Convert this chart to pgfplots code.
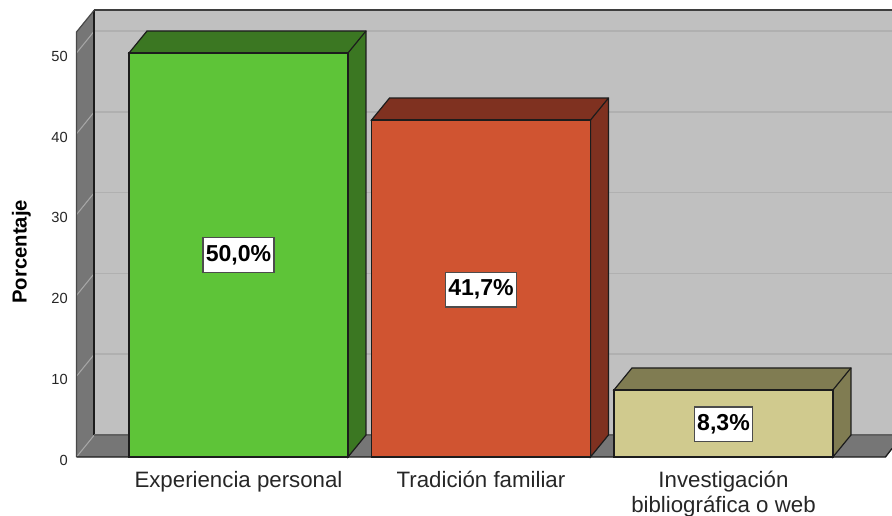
\documentclass[border=0pt]{standalone}
\usepackage{pgfplots}
\pgfplotsset{compat=1.18}
\usepackage{fontspec}
\setmainfont{Liberation Sans}
\definecolor{wallback}{HTML}{C0C0C0}
\definecolor{wallside}{HTML}{767676}
\definecolor{gridback}{HTML}{B0B0B0}
\definecolor{gridside}{HTML}{A6A6A6}
\definecolor{edge}{HTML}{1C1C1C}
\definecolor{gfront}{HTML}{5EC438}
\definecolor{gdark}{HTML}{3B7722}
\definecolor{rfront}{HTML}{D05431}
\definecolor{rdark}{HTML}{7F3120}
\definecolor{tfront}{HTML}{D0CA8E}
\definecolor{tdark}{HTML}{807C52}
\begin{document}
\begin{tikzpicture}
\useasboundingbox (0,0) rectangle (669pt,386.25pt);
\begin{axis}[
  at={(57.375pt,43.5pt)}, anchor=south west,
  scale only axis, width=611.625pt, height=342.75pt,
  xmin=-0.668, xmax=2.695, ymin=0, ymax=56.56,
  clip=false,
  axis line style={draw=none},
  major tick length=0pt,
  tick style={draw=none},
  xtick={0,1,2},
  xticklabels={Experiencia personal,Tradición familiar,{Investigación\\bibliográfica o web}},
  xticklabel style={align=center,font=\fontsize{16.7pt}{18.5pt}\selectfont,text=black!85,yshift=-7pt},
  ytick={0,10,20,30,40,50},
  yticklabel style={font=\fontsize{11pt}{12pt}\selectfont,text=black!85,xshift=-3pt,yshift=-2.5pt},
  /pgf/number format/assume math mode=true,
  ylabel={\fontsize{15.2pt}{16pt}\selectfont\bfseries Porcentaje},
  every axis y label/.style={at={(axis description cs:-0.0675,0.449)},rotate=90,anchor=center},
]
% walls
\addplot[draw=none,fill=wallback,forget plot] coordinates {(-0.5944,2.723)(-0.5944,55.32)(2.695,55.32)(2.695,2.723)} -- cycle;
\addplot[draw=none,fill=wallside,forget plot] coordinates {(-0.668,0)(-0.5944,2.723)(-0.5944,55.32)(-0.668,52.6)} -- cycle;
\addplot[draw=none,fill=wallside,forget plot] coordinates {(-0.668,0)(2.668,0)(2.695,1.05)(2.695,2.723)(-0.5944,2.723)} -- cycle;
% grid on back wall
\addplot[gridback,line width=1.2pt,forget plot] coordinates {(-0.5944,12.723)(2.695,12.723)};
\addplot[gridback,line width=1.2pt,forget plot] coordinates {(-0.5944,22.723)(2.695,22.723)};
\addplot[gridback,line width=1.2pt,forget plot] coordinates {(-0.5944,32.723)(2.695,32.723)};
\addplot[gridback,line width=1.2pt,forget plot] coordinates {(-0.5944,42.723)(2.695,42.723)};
\addplot[gridback,line width=1.2pt,forget plot] coordinates {(-0.5944,52.723)(2.695,52.723)};
% grid on side wall
\addplot[gridside,line width=0.8pt,forget plot] coordinates {(-0.668,0)(-0.5944,2.723)};
\addplot[gridside,line width=0.8pt,forget plot] coordinates {(-0.668,10)(-0.5944,12.723)};
\addplot[gridside,line width=0.8pt,forget plot] coordinates {(-0.668,20)(-0.5944,22.723)};
\addplot[gridside,line width=0.8pt,forget plot] coordinates {(-0.668,30)(-0.5944,32.723)};
\addplot[gridside,line width=0.8pt,forget plot] coordinates {(-0.668,40)(-0.5944,42.723)};
\addplot[gridside,line width=0.8pt,forget plot] coordinates {(-0.668,50)(-0.5944,52.723)};
% wall edges
\addplot[edge!85!white,line width=1.2pt,forget plot] coordinates {(2.695,55.32)(-0.5944,55.32)};
\addplot[edge,line width=1.6pt,forget plot] coordinates {(-0.5944,55.32)(-0.5944,2.723)};
\addplot[edge!70!white,line width=1.1pt,forget plot] coordinates {(-0.5944,2.723)(2.695,2.723)};
\addplot[edge!80!white,line width=0.9pt,line join=round,forget plot] coordinates {(-0.668,0)(-0.668,52.6)(-0.5944,55.32)};
\addplot[edge,line width=1pt,forget plot] coordinates {(-0.668,0)(2.668,0)(2.695,1.05)};
% bar 1: 50.0
\addplot[draw=edge,line width=0.9pt,fill=gdark,forget plot] coordinates {(-0.4515,50)(-0.3773,52.723)(0.5257,52.723)(0.5257,2.723)(0.4515,0)(0.4515,50)} -- cycle;
\addplot[edge,line width=0.9pt,forget plot] coordinates {(0.4515,50)(0.5257,52.723)};
\addplot[ybar,bar shift=0pt,bar width=164.25pt,draw=edge,line width=0.9pt,fill=gfront,forget plot] coordinates {(0,50)};
% bar 2: 41.7
\addplot[draw=edge,line width=0.9pt,fill=rdark,forget plot] coordinates {(0.5485,41.7)(0.6227,44.423)(1.5257,44.423)(1.5257,2.723)(1.4515,0)(1.4515,41.7)} -- cycle;
\addplot[edge,line width=0.9pt,forget plot] coordinates {(1.4515,41.7)(1.5257,44.423)};
\addplot[ybar,bar shift=0pt,bar width=164.25pt,draw=edge,line width=0.9pt,fill=rfront,forget plot] coordinates {(1,41.7)};
% bar 3: 8.3
\addplot[draw=edge,line width=0.9pt,fill=tdark,forget plot] coordinates {(1.5485,8.3)(1.6227,11.023)(2.5257,11.023)(2.5257,2.723)(2.4515,0)(2.4515,8.3)} -- cycle;
\addplot[edge,line width=0.9pt,forget plot] coordinates {(2.4515,8.3)(2.5257,11.023)};
\addplot[ybar,bar shift=0pt,bar width=164.25pt,draw=edge,line width=0.9pt,fill=tfront,forget plot] coordinates {(2,8.3)};
% value labels
\addplot[draw=none,mark=none,point meta=explicit symbolic,nodes near coords,
  nodes near coords style={anchor=center,fill=white,draw=black!70,line width=1.1pt,
    font=\fontsize{17.3pt}{18pt}\selectfont\bfseries,text=black,inner xsep=2pt,inner ysep=1.6pt,
    minimum height=26pt}]
  coordinates {(0,25)[50,0\%] (1,20.7)[41,7\%] (2,4.05)[8,3\%]};
\end{axis}
\end{tikzpicture}
\end{document}
